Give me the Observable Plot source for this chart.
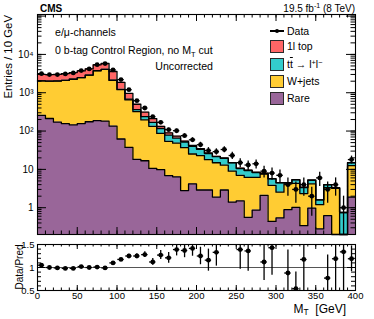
<!DOCTYPE html>
<html><head><meta charset="utf-8">
<script src="https://cdn.jsdelivr.net/npm/d3@7"></script>
<script src="https://cdn.jsdelivr.net/npm/@observablehq/plot@0.6"></script>
<style>
body{margin:0;background:#fff;}
#wrap{position:relative;width:374px;height:319px;overflow:hidden;font-family:"Liberation Sans",Arial,Helvetica,sans-serif;color:#000;}
#wrap svg{position:absolute;left:0;}
.t{position:absolute;white-space:nowrap;line-height:1;}
.sub{font-size:0.7em;position:relative;top:0.35em;}
.sup{font-size:0.7em;position:relative;top:-0.45em;}
.box{position:absolute;width:14px;height:13px;box-sizing:border-box;border:1.5px solid #2a2a2a;}
</style></head><body><div id="wrap"></div>
<script>
// ---- data ----
const binLow = [0,10,20,30,40,50,60,70,80,90,100,110,120,130,140,150,160,170,180,190,200,210,220,230,240,250,260,270,280,290,300,310,320,330,340,350,360,370,380,390];
const binWidth = 10;
const dataCounts = [3150,2970,2970,3100,3290,3780,4180,5400,5750,3940,2200,1200,620,400,238,169,109,102,76,59,44,31,29,33,23,15,13,14,9,8,7,4,3,4,2,6,3,4,1,18];
const dataErr = [56,55,55,56,57,61,65,73,76,63,47,35,25,20,15,13,10,10,9,8,7,6,5.4,5.7,4.8,3.9,3.6,3.7,3,2.8,2.6,2,1.7,2,1.4,2.4,1.7,2,1,4.2];
const rare  = [258,213,172,157,145,157,175,187,181,135,62,37.5,18.3,16.8,10.6,9.8,6.9,6.4,2.8,4.2,2.9,2.9,1.9,2.9,1.4,1.5,0.56,0.87,2.1,0.44,0.54,0.89,1.02,0.34,0.98,0.28,0.62,0,0,1.9];
const wjets = [1772,1787,1848,1943,2105,2313,2705,3553,3869,1965,1138,612,302,178,122,77,47,42,34,21,20,15,13,10,7.6,5.5,5.6,5.3,5.4,3.4,2.0,3.3,3.3,2.0,3.2,0.92,2.7,3.2,0,10.6];
const ttll  = [8,8,9,10,11,13,15,18,22,24,28,30,42,43,36,30,24,17,15,15,10.5,8,6.5,6.5,5.7,3.5,3.2,2.1,0.3,1.8,1.9,0.2,1.0,1.0,1.0,0.4,0.6,0.1,0.75,2.4];
const top1l = [962,962,971,1050,1099,1217,1285,1592,1728,1456,642,280,138,74,43,16,12,8,3,2,1.5,1,0.5,0.5,0.3,0.3,0.2,0.2,0.2,0.1,0.1,0.1,0.1,0.1,0.1,0,0.1,0.06,0,0.2];
const ratio = [1.05,1.00,0.99,0.98,0.98,1.02,1.00,1.01,0.99,1.10,1.175,1.25,1.25,1.28,1.12,1.27,1.21,1.39,1.37,1.415,1.25,1.16,1.33,null,null,1.39,1.36,null,1.12,1.43,null,0.88,0.54,1.175,null,null,0.77,1.19,1.34,1.19];
const ratioErr = [0.02,0.02,0.02,0.02,0.02,0.02,0.02,0.02,0.02,0.02,0.025,0.036,0.05,0.064,0.073,0.098,0.116,0.138,0.157,0.17,0.19,0.24,0.3,null,null,0.43,0.44,null,0.4,0.6,null,0.5,0.36,0.7,null,null,0.5,0.7,1.34,0.28];
const layerNames = ["Rare","W+jets","tt\u0304 \u2192 l\u207Al\u207B","1l top"];
const layerColors = ["#996699","#ffcc33","#33cccc","#ff6666"];
const yTickValues = [1,10,100,1000,10000];
const yTickLabels = ["1","10","10\u00B2","10\u00B3","10\u2074"];
const xTickValues = [0,50,100,150,200,250,300,350,400];
const xTickLabels = ["0","50","100","150","200","250","300","350","400"];
const rTickValues = [0.5,1,1.5];
const rTickLabels = ["0.5","1","1.5"];

// ---- layout ----
const FONT = '"Liberation Sans",Arial,Helvetica,sans-serif';
const W = 374, mL = 37, mR = 19;
const innerW = W - mL - mR;
const mainH = 240, mainTop = 14, mainBottom = 6, innerH = mainH - mainTop - mainBottom;
const ratH = 79, ratTop = 4, ratBottom = 29, innerRH = ratH - ratTop - ratBottom;
const yMin = 0.2, yMax = 1.1e5;
const xMax = binLow[binLow.length-1] + binWidth;

const layerValues = [rare, wjets, ttll, top1l];
const edges = binLow.concat([xMax]);
let prev = binLow.map(() => 0);
const layers = layerValues.map((vals, li) => {
  const lo = prev, hi = prev.map((p, i) => p + vals[i]);
  prev = hi;
  const rows = edges.map((x, k) => {
    const j = Math.min(k, binLow.length - 1);
    return {x, lo: Math.max(lo[j], yMin), hi: Math.max(hi[j], yMin)};
  });
  return {name: layerNames[li], color: layerColors[li], rows};
});

const pts = binLow.map((b, i) => ({lo: b, hi: b + binWidth, c: b + binWidth/2, v: dataCounts[i], e: dataErr[i], r: ratio[i], re: ratioErr[i]}));
const rpts = pts.filter(d => d.r != null);

const xMinor = d3.range(0, xMax + 1, 10);
const yMinor = [];
for (let p = -1; p <= 5; p++) for (let m = 1; m <= 9; m++) { const v = m * Math.pow(10, p); if (v >= yMin && v <= yMax) yMinor.push(v); }
const yMajor = [0.1,1,10,100,1000,10000,100000].filter(v => v >= yMin && v <= yMax);
const rMinor = d3.range(0.5, 1.5001, 0.1);

function tickMarks(inH, yMaj, yMin_, majLen, minLen, yMajLen, yMinLen) {
  return [
    Plot.ruleX(xMinor, {x: d => d, insetTop: inH - minLen, stroke: "#000", strokeWidth: 1}),
    Plot.ruleX(xTickValues, {x: d => d, insetTop: inH - majLen, stroke: "#000", strokeWidth: 1}),
    Plot.ruleX(xMinor, {x: d => d, insetBottom: inH - minLen, stroke: "#000", strokeWidth: 1}),
    Plot.ruleX(xTickValues, {x: d => d, insetBottom: inH - majLen, stroke: "#000", strokeWidth: 1}),
    Plot.ruleY(yMin_, {y: d => d, insetRight: innerW - yMinLen, stroke: "#000", strokeWidth: 1}),
    Plot.ruleY(yMaj, {y: d => d, insetRight: innerW - yMajLen, stroke: "#000", strokeWidth: 1}),
    Plot.ruleY(yMin_, {y: d => d, insetLeft: innerW - yMinLen, stroke: "#000", strokeWidth: 1}),
    Plot.ruleY(yMaj, {y: d => d, insetLeft: innerW - yMajLen, stroke: "#000", strokeWidth: 1})
  ];
}

const mainPlot = Plot.plot({
  width: W, height: mainH,
  marginTop: mainTop, marginBottom: mainBottom, marginLeft: mL, marginRight: mR,
  x: {domain: [0, xMax], axis: null},
  y: {type: "log", domain: [yMin, yMax], axis: null},
  style: {fontFamily: FONT, background: "transparent", overflow: "visible"},
  marks: [
    ...layers.map(L => Plot.areaY(L.rows, {x: "x", y1: "lo", y2: "hi", curve: "step-after", fill: L.color})),
    ...layers.map(L => Plot.lineY(L.rows, {x: "x", y: "hi", curve: "step-after", stroke: "#000", strokeWidth: 1.3})),
    Plot.ruleX(pts, {x: "c", y1: d => Math.max(d.v - d.e, yMin), y2: d => d.v + d.e, stroke: "#000", strokeWidth: 1.3, clip: true}),
    Plot.ruleY(pts, {y: "v", x1: d => d.lo + 1, x2: d => d.hi - 1, stroke: "#000", strokeWidth: 1.3}),
    Plot.dot(pts, {x: "c", y: "v", r: 2.4, fill: "#000", stroke: "none"}),
    ...tickMarks(innerH, yMajor, yMinor, 7, 3.5, 9, 4.5),
    Plot.text(yTickValues, {y: d => d, text: (d, i) => yTickLabels[i], frameAnchor: "left", textAnchor: "end", dx: -4, fontSize: 10, fill: "#000"}),
    Plot.frame({stroke: "#000", strokeWidth: 1.1})
  ]
});
mainPlot.style.top = "0px";

const ratPlot = Plot.plot({
  width: W, height: ratH,
  marginTop: ratTop, marginBottom: ratBottom, marginLeft: mL, marginRight: mR,
  x: {domain: [0, xMax], axis: null},
  y: {domain: [0.5, 1.5], axis: null},
  style: {fontFamily: FONT, background: "transparent", overflow: "visible"},
  marks: [
    Plot.ruleY([1], {stroke: "#555", strokeWidth: 1}),
    Plot.ruleX(rpts, {x: "c", y1: d => d.r - d.re, y2: d => d.r + d.re, stroke: "#000", strokeWidth: 1.3, clip: true}),
    Plot.ruleY(rpts, {y: "r", x1: d => d.lo + 1, x2: d => d.hi - 1, stroke: "#000", strokeWidth: 1.3, clip: true}),
    Plot.dot(rpts, {x: "c", y: "r", r: 2.4, fill: "#000", stroke: "none", clip: true}),
    ...tickMarks(innerRH, rTickValues, rMinor, 5, 2.5, 8, 4),
    Plot.text(rTickValues, {y: d => d, text: (d, i) => rTickLabels[i], frameAnchor: "left", textAnchor: "end", dx: -3, fontSize: 9.5, fill: "#000"}),
    Plot.text(xTickValues, {x: d => d, text: (d, i) => xTickLabels[i], frameAnchor: "bottom", dy: 8, fontSize: 9.5, fill: "#000"}),
    Plot.frame({stroke: "#000", strokeWidth: 1.1})
  ]
});
ratPlot.style.top = mainH + "px";

const wrap = document.getElementById("wrap");
wrap.appendChild(mainPlot);
wrap.appendChild(ratPlot);

function addText(html, css) {
  const d = document.createElement("div");
  d.className = "t";
  d.innerHTML = html;
  Object.assign(d.style, css);
  wrap.appendChild(d);
  return d;
}
addText("CMS", {left: "40px", top: "3.5px", fontSize: "10px", fontWeight: "bold"});
addText('19.5 fb<span class="sup">-1</span> (8 TeV)', {right: "19px", top: "3.5px", fontSize: "10px"});
addText("e/\u03BC-channels", {left: "55px", top: "27px", fontSize: "10.6px"});
addText('0 b-tag Control Region, no M<span class="sub">T</span> cut', {left: "55px", top: "45px", fontSize: "10.6px"});
addText("Uncorrected", {right: "161px", top: "60.5px", fontSize: "10.6px"});
addText('M<span class="sub">T</span>&nbsp; [GeV]', {right: "28px", top: "302.5px", fontSize: "12px"});
addText("Entries / 10 GeV", {left: "3.3px", top: "115px", width: "100px", textAlign: "right", fontSize: "11.4px", transformOrigin: "0 0", transform: "rotate(-90deg)"});
addText("Data/Pred", {left: "14.5px", top: "297px", width: "60px", textAlign: "center", fontSize: "10px", transformOrigin: "0 0", transform: "rotate(-90deg)"});

// legend
const legX = 270, legTextX = 287;
const dl = document.createElement("div");
Object.assign(dl.style, {position: "absolute", left: legX + "px", top: "30.3px", width: "14px", height: "1.4px", background: "#000"});
wrap.appendChild(dl);
const dd = document.createElement("div");
Object.assign(dd.style, {position: "absolute", left: (legX + 4.6) + "px", top: "28.6px", width: "4.8px", height: "4.8px", borderRadius: "50%", background: "#000"});
wrap.appendChild(dd);
addText("Data", {left: legTextX + "px", top: "26px", fontSize: "10.5px"});
const legOrder = [3, 2, 1, 0];
const legBoxTop = [40, 57.5, 74.5, 91.5];
const legLabels = ['1l top', 't<span style="text-decoration:overline">t</span> \u2192 l<span class="sup">+</span>l<span class="sup">\u2212</span>', 'W+jets', 'Rare'];
legOrder.forEach((li, k) => {
  const b = document.createElement("div");
  b.className = "box";
  Object.assign(b.style, {left: legX + "px", top: legBoxTop[k] + "px", background: layerColors[li]});
  wrap.appendChild(b);
  addText(legLabels[k], {left: legTextX + "px", top: (legBoxTop[k] + 1.3) + "px", fontSize: "10.5px"});
});
</script></body></html>
